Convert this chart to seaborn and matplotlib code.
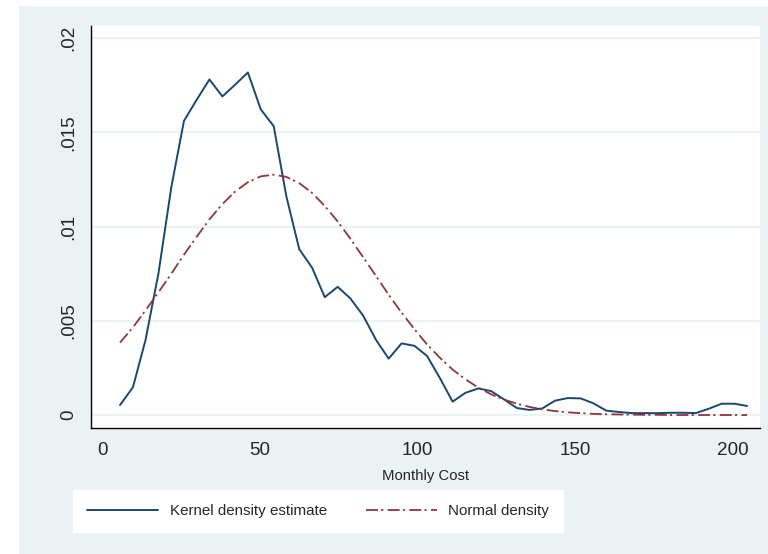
import numpy as np
import pandas as pd
import matplotlib
matplotlib.use("Agg")
import matplotlib.pyplot as plt
from matplotlib.patches import Rectangle
import seaborn as sns

# evaluation grid (Stata kdensity, 50 points)
cost = [5.5, 9.6, 13.6, 17.7, 21.8, 25.8, 29.9, 33.9, 38.0, 42.1,
        46.1, 50.2, 54.3, 58.3, 62.4, 66.5, 70.5, 74.6, 78.6, 82.7,
        86.8, 90.8, 94.9, 99.0, 103.0, 107.1, 111.1, 115.2, 119.3, 123.3,
        127.4, 131.5, 135.5, 139.6, 143.6, 147.7, 151.8, 155.8, 159.9, 164.0,
        168.0, 172.1, 176.2, 180.2, 184.3, 188.3, 192.4, 196.5, 200.5, 204.6]

kernel = [0.00053, 0.00147, 0.00398, 0.00751, 0.0121, 0.0156, 0.01674, 0.0178, 0.0169, 0.01753,
          0.01817, 0.01621, 0.01532, 0.01161, 0.0088, 0.00781, 0.00625, 0.0068, 0.00619, 0.00527,
          0.00398, 0.00299, 0.0038, 0.00367, 0.00313, 0.00195, 0.00071, 0.00118, 0.00141, 0.00127,
          0.00083, 0.00037, 0.00027, 0.00035, 0.00076, 0.0009, 0.00088, 0.00062, 0.00023, 0.00016,
          0.0001, 0.0001, 0.0001, 0.00012, 0.00012, 0.0001, 0.00033, 0.0006, 0.0006, 0.00048]

normal = [0.00384, 0.00465, 0.00555, 0.00651, 0.0075, 0.0085, 0.00947, 0.01038, 0.01119, 0.01186,
          0.01235, 0.01266, 0.01275, 0.01263, 0.0123, 0.01178, 0.01109, 0.01027, 0.00936, 0.00837,
          0.00737, 0.00638, 0.00543, 0.00455, 0.00374, 0.00303, 0.00241, 0.00189, 0.00145, 0.0011,
          0.00082, 0.0006, 0.00043, 0.0003, 0.00021, 0.00014, 0.0001, 0.00006, 0.00004, 0.00003,
          0.00002, 0.00001, 0.00001, 0.0, 0.0, 0.0, 0.0, 0.0, 0.0, 0.0]

yticks = [0, 0.005, 0.01, 0.015, 0.02]
ytick_labels = ["0", ".005", ".01", ".015", ".02"]
xticks = [0, 50, 100, 150, 200]

df = pd.DataFrame({"cost": cost, "kernel": kernel, "normal": normal})

sns.set_style("white")
plt.rcParams["font.family"] = ["Liberation Sans", "DejaVu Sans"]

BG = "#eaf2f3"
BLUE = "#1a476f"
RED = "#90353b"

fig = plt.figure(figsize=(7.68, 5.54), dpi=100)
fig.patch.set_facecolor("white")
fig.patches.append(Rectangle((19 / 768, 0), 1, 1 - 6 / 554, transform=fig.transFigure,
                             facecolor=BG, edgecolor="none", zorder=-10))

ax = fig.add_axes([90.7 / 768, 1 - 427.7 / 554, (760 - 90.7) / 768, (427.7 - 26) / 554])
ax.set_facecolor("white")

sns.lineplot(data=df, x="cost", y="kernel", ax=ax, color=BLUE, linewidth=1.4,
             label="Kernel density estimate")
sns.lineplot(data=df, x="cost", y="normal", ax=ax, color=RED, linewidth=1.3,
             linestyle=(0, (6.6, 1.8, 1.2, 2.4)), label="Normal density")

ax.set_xlim(-3.81, 208.7)
ax.set_ylim(-0.000673, 0.020636)
ax.set_yticks(yticks)
ax.set_yticklabels(ytick_labels, rotation=90, va="center")
ax.set_xticks(xticks)
ax.grid(axis="y", color=BG, linewidth=1.5)
ax.set_axisbelow(True)
for s in ["top", "right"]:
    ax.spines[s].set_visible(False)
for s in ["left", "bottom"]:
    ax.spines[s].set_color("black")
    ax.spines[s].set_linewidth(1.0)
ax.tick_params(axis="both", length=5.5, width=1, color="#555555", labelsize=13.6, direction="out")
ax.tick_params(axis="y", pad=4)
ax.tick_params(axis="x", pad=5)
ax.set_xlabel("Monthly Cost", fontsize=10.7, labelpad=7)
ax.set_ylabel("")

handles, labels = ax.get_legend_handles_labels()
ax.get_legend().remove()
leg = fig.legend(handles, labels, loc="center", ncol=2,
                 bbox_to_anchor=(73 / 768, 1 - 533 / 554, 490 / 768, 44 / 554),
                 mode="expand", borderaxespad=0,
                 frameon=True, fancybox=False, facecolor="white", edgecolor="white",
                 framealpha=1, fontsize=10.9, handlelength=4.69, handletextpad=0.79,
                 columnspacing=2.25, borderpad=0.9)

fig.savefig("out.png", dpi=100)
